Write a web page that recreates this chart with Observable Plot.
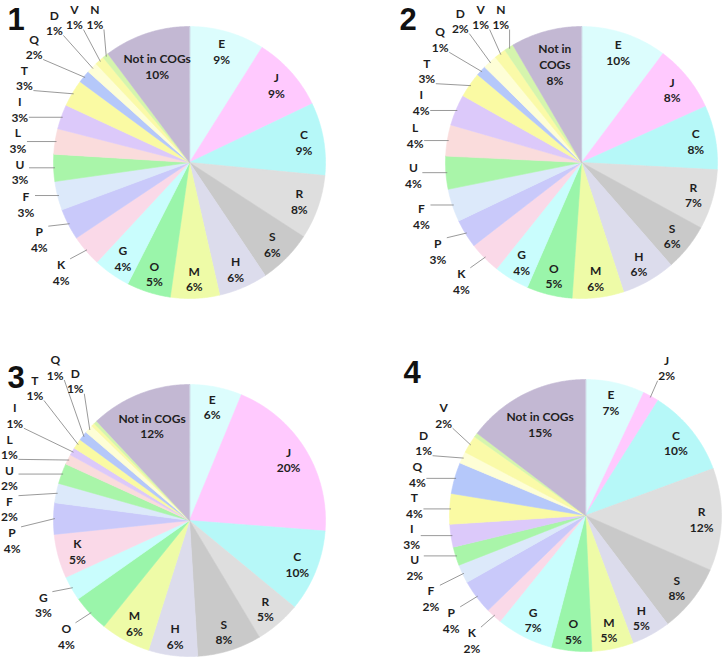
<!DOCTYPE html>
<html>
<head>
<meta charset="utf-8">
<script src="https://cdn.jsdelivr.net/npm/d3@7"></script>
<script src="https://cdn.jsdelivr.net/npm/@observablehq/plot@0.6"></script>
<style>
  html, body { margin: 0; padding: 0; background: #ffffff; }
  #chart { width: 724px; height: 664px; }
</style>
</head>
<body>
<div id="chart"></div>
<script>
// ---------------- data ----------------
const categories = ["E","J","C","R","S","H","M","O","G","K","P","F","U","L","I","T","Q","D","V","N","Not in COGs"];
const categoryColors = ["#dcfdfd","#ffc9fe","#b6f8f8","#dedede","#c9c9c9","#dcdcec","#eefba7","#9af5aa","#c9fdfd","#fad9e8","#c9c9fa","#dce9fa","#a9f5a9","#fadcdc","#dcc9fa","#fafaa3","#b5c8fa","#fefed6","#fafaa8","#d5f5ad","#c3b8d3"];

// percent of genes per COG category (panels 1-4)
const panel1 = [8.9, 8.9, 8.6, 7.6, 6.4, 5.8, 5.8, 5.2, 4.4, 3.7, 3.7, 3.4, 3.2, 3.0, 2.9, 3.2, 1.5, 1.3, 1.1, 0.7, 10.2];
const panel2 = [10.2, 8.0, 7.6, 7.1, 5.6, 6.4, 6.1, 5.4, 4.2, 3.8, 3.4, 3.9, 3.9, 3.7, 3.7, 3.0, 1.2, 1.7, 1.4, 1.1, 8.4];
const panel3 = [6.2, 19.9, 9.7, 5.4, 7.6, 5.8, 5.9, 4.4, 2.9, 5.2, 3.7, 2.3, 2.4, 1.2, 0.9, 1.2, 1.1, 1.0, 0.4, 0.4, 11.9];
const panel4 = [7.0, 1.9, 10.4, 12.1, 8.1, 4.6, 4.9, 4.8, 6.7, 1.9, 4.1, 2.2, 2.2, 0, 2.7, 3.6, 3.7, 1.4, 2.1, 0.5, 14.6];
const panelNames = ["1","2","3","4"];

// categories whose labels sit outside the pie with a leader line
const outside1 = ["K","P","F","U","L","I","T","Q","D","V","N"];
const outside2 = ["K","P","F","U","L","I","T","Q","D","V","N"];
const outside3 = ["O","G","P","F","U","L","I","T","Q","D"];
const outside4 = ["J","K","P","F","U","I","T","Q","D","V"];

// ---------------- layout ----------------
const W = 724, H = 664, R = 136;
const centers = [[189,162],[581,162],[189,520],[585,515]];
const panelBoxes = [[0,0],[362,0],[0,332],[362,332]];
const panels = [
  {name: panelNames[0], values: panel1, outside: outside1},
  {name: panelNames[1], values: panel2, outside: outside2},
  {name: panelNames[2], values: panel3, outside: outside3},
  {name: panelNames[3], values: panel4, outside: outside4}
];

const slicePts = [], labels = [], leaders = [], titles = [];

panels.forEach((p, pi) => {
  const [cx, cy] = centers[pi];
  const arcs = d3.pie().sort(null).startAngle(0).endAngle(2 * Math.PI)(p.values);
  const outs = [];
  arcs.forEach((a, i) => {
    const v = p.values[i];
    if (v <= 0) return;
    const key = p.name + "-" + categories[i];
    const color = categoryColors[i];
    slicePts.push({key, color, x: cx, y: cy});
    const n = Math.max(2, Math.ceil((a.endAngle - a.startAngle) / (Math.PI / 360)));
    for (let k = 0; k <= n; k++) {
      const t = a.startAngle + (a.endAngle - a.startAngle) * k / n;
      slicePts.push({key, color, x: cx + R * Math.sin(t), y: cy - R * Math.cos(t)});
    }
    if (v < 0.6) return; // too small: unlabeled
    const mid = (a.startAngle + a.endAngle) / 2;
    const pct = Math.round(v) + "%";
    let name = categories[i];
    if (name === "Not in COGs" && v < 9) name = "Not in\nCOGs";
    if (p.outside.includes(categories[i])) {
      outs.push({angle: mid, mid, rad: 1.24 * R, text: name + "\n" + pct});
    } else {
      const f = categories[i].length > 2 ? 0.75 : 0.855;
      labels.push({x: cx + f * R * Math.sin(mid), y: cy - f * R * Math.cos(mid), text: name + "\n" + pct});
    }
  });
  // spread outside labels: along the circle and outward where crowded
  const ymin = panelBoxes[pi][1] + 16;
  const xmin = panelBoxes[pi][0] + 9;
  const pos = o => ({x: cx + o.rad * Math.sin(o.angle), y: cy - o.rad * Math.cos(o.angle)});
  outs.sort((a, b) => a.angle - b.angle);
  for (let it = 0; it < 2000; it++) {
    let moved = false;
    for (let i = 0; i < outs.length - 1; i++) {
      const A = pos(outs[i]), B = pos(outs[i + 1]);
      if (Math.abs(A.x - B.x) < 20 && Math.abs(A.y - B.y) < 31) {
        outs[i].angle -= 0.0015; outs[i + 1].angle += 0.0015;
        outs[i].rad = Math.min(1.5 * R, outs[i].rad + 0.12);
        outs[i + 1].rad = Math.min(1.5 * R, outs[i + 1].rad + 0.12);
        moved = true;
      }
    }
    outs.forEach(o => {
      const c = Math.cos(o.angle), s = Math.sin(o.angle);
      let maxRad = Infinity;
      if (c > 0) maxRad = Math.min(maxRad, (cy - ymin) / c);
      if (s < 0) maxRad = Math.min(maxRad, (cx - xmin) / -s);
      if (o.rad > maxRad) {
        if (maxRad >= 1.2 * R) o.rad = maxRad;
        else { o.rad = 1.2 * R; o.angle += (o.angle > Math.PI ? -0.0015 : 0.0015); }
      }
    });
    if (!moved) break;
  }
  outs.forEach(o => {
    const P = pos(o);
    labels.push({x: P.x, y: P.y, text: o.text});
    const ex = cx + 0.99 * R * Math.sin(o.mid), ey = cy - 0.99 * R * Math.cos(o.mid);
    const hw = 9, hh = 13;
    const ax = Math.max(P.x - hw, Math.min(P.x + hw, ex));
    const ay = Math.max(P.y - hh, Math.min(P.y + hh, ey));
    leaders.push({x1: ax, y1: ay, x2: ex, y2: ey});
  });
  titles.push({x: cx - 182, y: cy - 133, text: p.name});
});

const chart = Plot.plot({
  width: W,
  height: H,
  margin: 0,
  x: {domain: [0, W], range: [0, W], axis: null},
  y: {domain: [0, H], range: [0, H], axis: null},
  color: {type: "identity"},
  marks: [
    Plot.line(slicePts, {x: "x", y: "y", z: "key", fill: "color", stroke: "color", strokeWidth: 0.6, curve: "linear-closed"}),
    Plot.link(leaders, {x1: "x1", y1: "y1", x2: "x2", y2: "y2", stroke: "#808080", strokeWidth: 0.8}),
    Plot.text(labels, {x: "x", y: "y", text: "text", fontFamily: "Lato", fontWeight: "bold", fontSize: 12, lineHeight: 1.3, fill: "#1e1e1e", lineAnchor: "middle"}),
    Plot.text(titles, {x: "x", y: "y", text: "text", fontFamily: "Liberation Sans", fontWeight: "bold", fontSize: 31, textAnchor: "start", lineAnchor: "bottom", fill: "#111111"})
  ]
});
document.getElementById("chart").appendChild(chart);
</script>
</body>
</html>
